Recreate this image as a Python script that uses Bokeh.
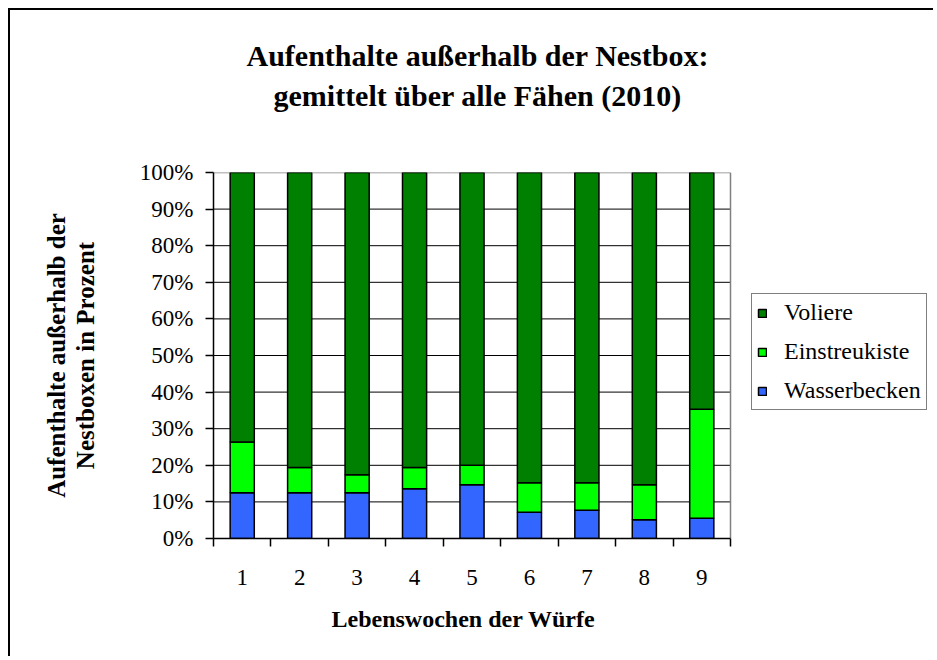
from bokeh.plotting import figure
from bokeh.models import (ColumnDataSource, FixedTicker, Legend, LegendItem, Title,
                          PrintfTickFormatter, Range1d)
from bokeh.embed import file_html
from bokeh.resources import INLINE

weeks = ["1", "2", "3", "4", "5", "6", "7", "8", "9"]
wasserbecken = [12.5, 12.5, 12.5, 13.6, 14.7, 7.2, 7.7, 5.1, 5.5]
einstreukiste = [13.9, 6.9, 4.9, 5.8, 5.3, 8.0, 7.5, 9.6, 29.8]
voliere = [73.6, 80.6, 82.6, 80.6, 80.0, 84.8, 84.8, 85.3, 64.7]
y_ticks = [0, 10, 20, 30, 40, 50, 60, 70, 80, 90, 100]

series = ["Wasserbecken", "Einstreukiste", "Voliere"]
colors = ["#3366FF", "#00FF00", "#008000"]

FONT = "Liberation Serif"

# layout (pixels)
W, H = 925, 648
LEFT, TOP, BOTTOM = 203, 162, 120
PLOT_W = 517          # width of the category area
FRAME_W = W - LEFT    # frame reaches the right edge so the legend is not clipped

n = len(weeks)
xpos = [i + 1 for i in range(n)]
x_lo, x_hi = 0.5, n + 0.5
x_end = x_lo + (x_hi - x_lo) * FRAME_W / PLOT_W

src = ColumnDataSource(dict(x=xpos, Wasserbecken=wasserbecken,
                            Einstreukiste=einstreukiste, Voliere=voliere))

p = figure(width=W, height=H, output_backend="svg", toolbar_location=None,
           x_range=Range1d(x_lo, x_end), y_range=Range1d(0, 100),
           min_border_left=LEFT, min_border_right=0, min_border_top=TOP,
           min_border_bottom=BOTTOM, background_fill_color="white",
           border_fill_color="white")
p.styles = {"border-left": "2px solid black", "border-top": "2px solid black",
            "margin-left": "8px", "margin-top": "8px"}
p.outline_line_color = None
p.xgrid.grid_line_color = None
p.ygrid.grid_line_color = None

# horizontal grid lines limited to the category area
grid_y = y_ticks[1:-1]
p.segment(x0=[x_lo] * len(grid_y), x1=[x_hi] * len(grid_y), y0=grid_y, y1=grid_y,
          line_color="black", line_width=1)
# plot-area border (top and right, grey)
p.segment(x0=[x_lo, x_hi], x1=[x_hi, x_hi], y0=[y_ticks[-1], y_ticks[0]],
          y1=[y_ticks[-1], y_ticks[-1]], line_color="#808080", line_width=1.5)

renderers = p.vbar_stack(series, x="x", width=0.42, source=src, color=colors,
                         line_color="black", line_width=1.5)

# titles (first added = closest to the plot)
p.add_layout(Title(text=" ", text_font=FONT, text_font_size="30px",
                   standoff=26), "above")
p.add_layout(Title(text="gemittelt über alle Fähen (2010)", align="left",
                   offset=60,
                   text_font=FONT, text_font_size="30px", text_font_style="bold",
                   text_color="black", standoff=0), "above")
p.add_layout(Title(text="Aufenthalte außerhalb der Nestbox:", align="left",
                   offset=33,
                   text_font=FONT, text_font_size="30px", text_font_style="bold",
                   text_color="black", standoff=10), "above")

yax = p.yaxis[0]
yax.ticker = FixedTicker(ticks=y_ticks)
yax.formatter = PrintfTickFormatter(format="%d%%")
yax.major_tick_out = 8
yax.major_tick_in = 0
yax.minor_tick_line_color = None
yax.major_label_standoff = 12
yax.major_label_text_font = FONT
yax.major_label_text_font_size = "23px"
yax.major_label_text_color = "black"
yax.axis_label = "Aufenthalte außerhalb der\nNestboxen in Prozent"
yax.axis_label_text_font = FONT
yax.axis_label_text_font_size = "25px"
yax.axis_label_text_font_style = "bold"
yax.axis_label_text_color = "black"
yax.axis_label_text_line_height = 1.05
yax.axis_label_standoff = 38

xax = p.xaxis[0]
xax.bounds = (x_lo, x_hi)
xax.ticker = FixedTicker(ticks=xpos, minor_ticks=[x - 0.5 for x in xpos] + [x_hi])
xax.major_label_overrides = {x: w for x, w in zip(xpos, weeks)}
xax.major_tick_out = 0
xax.major_tick_in = 0
xax.minor_tick_out = 8
xax.minor_tick_in = 0
xax.minor_tick_line_color = "black"
xax.minor_tick_line_width = 1.5
xax.major_label_standoff = 23
xax.major_label_text_font = FONT
xax.major_label_text_font_size = "23px"
xax.major_label_text_color = "black"

for ax in (xax, yax):
    ax.axis_line_color = "black"
    ax.axis_line_width = 1.5
    ax.major_tick_line_color = "black"
    ax.major_tick_line_width = 1.5

# x-axis title, placed under the category area
p.add_layout(Title(text="Lebenswochen der Würfe", align="left",
                   offset=118, text_font=FONT, text_font_size="24px",
                   text_font_style="bold", text_color="black", standoff=32),
             "below")

items = [LegendItem(label=series[i], renderers=[renderers[i]]) for i in (2, 1, 0)]
legend = Legend(items=items, location=(538, 128), border_line_color="black",
                border_line_width=1, background_fill_color="white",
                background_fill_alpha=1, label_text_font=FONT,
                label_text_font_size="24px", label_text_color="black",
                glyph_width=10, glyph_height=10,
                label_height=16, spacing=12, padding=5, margin=0,
                label_standoff=17)
p.add_layout(legend)

open("out.html", "w").write(file_html(p, INLINE))
